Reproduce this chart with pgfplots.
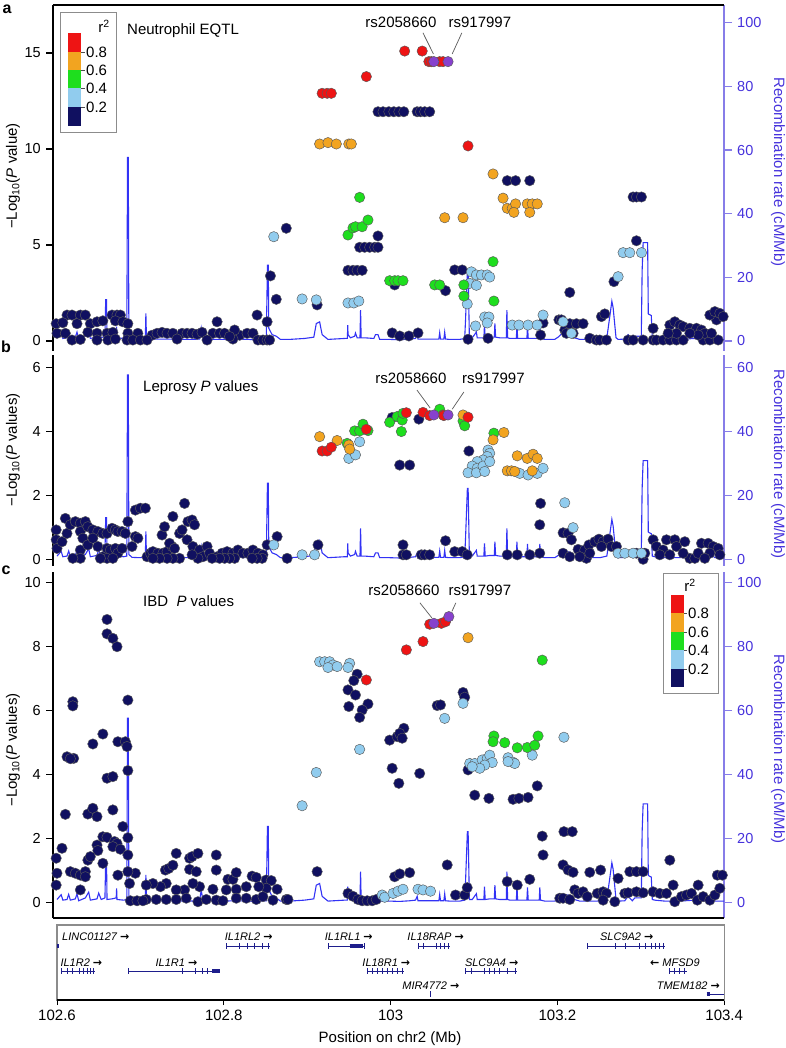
\documentclass[border=0pt]{standalone}
\usepackage{pgfplots}
\usepackage{pgfplotstable}
\pgfplotsset{compat=1.18}
\usepackage{fontspec}
\setmainfont{Liberation Sans}
\newfontfamily\djv{DejaVu Sans}
\definecolor{navyc}{RGB}{16,16,96}
\definecolor{lbc}{RGB}{145,204,238}
\definecolor{grc}{RGB}{30,222,30}
\definecolor{orc}{RGB}{242,164,32}
\definecolor{redc}{RGB}{238,20,20}
\definecolor{purc}{RGB}{135,65,205}
\definecolor{recc}{RGB}{50,50,245}
\definecolor{raxc}{RGB}{70,50,220}
\definecolor{raxl}{RGB}{135,125,232}
\definecolor{genec}{RGB}{30,30,140}

\pgfplotstableread{
x r
102.600 1.0
102.605 2.5
102.607 0.8
102.612 1.0
102.614 2.6
102.616 0.8
102.622 1.2
102.624 2.8
102.626 0.6
102.634 1.5
102.638 3.3
102.640 0.8
102.648 1.2
102.650 3.0
102.653 1.0
102.6575 1.5
102.6584 13.0
102.6594 13.0
102.6600 1.0
102.666 1.2
102.671 1.5
102.6715 4.5
102.672 1.0
102.680 0.8
102.6837 1.0
102.6846 57.7
102.6855 57.7
102.6862 1.5
102.690 0.6
102.700 0.5
102.7059 0.5
102.7066 8.7
102.7073 0.8
102.712 0.6
102.735 0.6
102.759 0.5
102.771 0.6
102.773 4.0
102.775 0.6
102.795 0.5
102.819 0.6
102.840 0.4
102.851 0.6
102.8524 23.8
102.8534 23.8
102.854 4.0
102.858 2.0
102.863 1.5
102.868 0.5
102.879 0.5
102.897 0.8
102.908 1.2
102.911 5.5
102.915 6.0
102.918 2.0
102.925 0.5
102.945 0.8
102.9483 0.8
102.9487 5.0
102.9491 2.0
102.952 1.0
102.957 1.5
102.958 2.5
102.960 1.0
102.9634 1.0
102.9641 9.7
102.9648 1.0
102.969 1.0
102.980 0.8
102.982 2.0
102.985 2.0
102.987 0.5
102.999 0.5
103.011 0.4
103.023 0.6
103.030 0.8
103.032 2.0
103.033 0.6
103.047 0.6
103.058 0.6
103.059 2.6
103.060 0.6
103.064 0.6
103.065 2.8
103.066 0.6
103.071 0.5
103.083 0.5
103.089 0.8
103.090 6.6
103.0922 22.2
103.0931 22.2
103.0946 1.0
103.098 1.0
103.103 2.8
103.104 1.0
103.112 1.0
103.1127 5.0
103.1136 1.0
103.119 1.2
103.1245 1.2
103.1252 5.5
103.1261 1.2
103.131 1.0
103.1389 1.0
103.1396 9.7
103.1405 1.0
103.143 0.8
103.151 0.8
103.1516 5.5
103.1525 0.8
103.1636 0.8
103.1643 4.8
103.1652 0.8
103.1784 0.8
103.1791 4.8
103.1799 0.8
103.185 0.5
103.197 0.5
103.201 1.2
103.206 2.4
103.213 2.4
103.218 1.2
103.227 0.5
103.251 0.5
103.2595 1.0
103.2655 12.5
103.2670 10.5
103.2705 1.0
103.273 0.5
103.281 0.6
103.285 2.0
103.290 0.6
103.293 1.5
103.3008 1.5
103.3018 22.0
103.303 30.9
103.3084 30.9
103.3092 8.5
103.3128 8.0
103.314 1.0
103.317 0.8
103.329 0.5
103.347 0.5
103.365 0.8
103.377 0.5
103.383 2.0
103.389 0.5
103.400 0.5
}\recomb

\pgfplotsset{
  pt/.style={only marks, mark=*, mark size=5.2bp, mark options={fill=#1, draw=black!65, line width=0.45bp}},
  every tick label/.append style={font=\fontsize{14.5bp}{17bp}\selectfont},
  /pgf/number format/assume math mode=true,
  panel/.style={scale only axis, width=671bp, xmin=102.5952, xmax=103.4, anchor=south west,
    axis line style={-, black, line width=1.1bp}, tick style={black, line width=1.1bp},
    tick align=outside, major tick length=7bp, xtick=\empty},
  rpanel/.style={scale only axis, width=671bp, xmin=102.5952, xmax=103.4, anchor=south west,
    axis x line=none, axis y line*=right, xtick=\empty,
    y axis line style={-, raxl, line width=1.1bp}, tick style={raxl, line width=1.1bp},
    tick align=outside, major tick length=8bp,
    yticklabel style={text=raxc}},
  recline/.style={recc, line width=1.1bp},
}

\begin{document}
\fontsize{15bp}{18bp}\selectfont
\begin{tikzpicture}
\path[use as bounding box] (0,0) rectangle (786bp,1048bp);

%================ PANEL A =================
\begin{axis}[rpanel, at={(53bp,697bp)}, height=346bp, ymin=-3.14, ymax=105.56, ytick={0,20,40,60,80,100}]
\addplot[recline] table[x=x,y=r] {\recomb};
\end{axis}
\begin{axis}[panel, at={(53bp,697bp)}, height=346bp, ymin=-0.521, ymax=17.5, ytick={0,5,10,15},
  axis x line*=top, axis y line*=left, clip=false]
\addplot[pt=navyc] coordinates {
(102.612,1.35)(102.618,1.35)(102.628,1.35)(102.634,1.35)(102.666,1.35)(102.672,1.35)(102.676,1.35)(102.840,1.35)
(102.599,0.90)(102.607,0.95)(102.624,0.90)(102.640,0.90)(102.648,1.0)(102.655,1.05)(102.670,1.05)(102.679,1.0)(102.685,0.9)
(102.600,0.40)(102.610,0.40)(102.637,0.45)(102.648,0.40)(102.660,0.40)(102.667,0.45)(102.685,0.40)(102.697,0.40)(102.714,0.30)(102.720,0.40)(102.726,0.45)(102.732,0.40)(102.739,0.40)(102.750,0.40)(102.756,0.40)(102.762,0.40)(102.768,0.35)(102.774,0.45)(102.787,0.40)(102.795,0.40)(102.801,0.40)(102.819,0.30)(102.828,0.40)(102.835,0.40)
(102.618,0.05)(102.628,0.08)(102.648,0.05)(102.661,0.05)(102.670,0.10)(102.684,0.05)(102.691,0.05)(102.700,0.05)(102.708,0.05)(102.744,0.10)(102.780,0.05)(102.811,0.10)(102.841,0.05)(102.847,0.05)(102.852,0.05)(102.855,0.05)
(102.792,1.0)(102.813,0.57)(102.852,1.0)(102.807,0.23)
(102.856,3.39)(102.863,2.17)(102.875,5.87)(102.912,1.88)
(102.985,11.94)(102.991,11.94)(102.998,11.94)(103.004,11.94)(103.010,11.94)(103.016,11.94)(103.032,11.94)(103.036,11.94)(103.041,11.94)(103.047,11.94)
(102.985,5.47)(102.963,4.88)(102.969,4.88)(102.975,4.88)(102.981,4.88)(102.985,4.88)
(102.949,3.68)(102.955,3.68)(102.960,3.68)(102.966,3.68)
(103.005,2.92)(103.066,2.62)(103.077,3.70)(103.086,3.70)
(103.140,8.35)(103.150,8.35)(103.167,8.35)
(103.291,7.5)(103.295,7.5)(103.301,7.5)(103.295,5.22)(103.268,3.09)(103.215,2.53)
(103.002,0.42)(103.011,0.26)(103.022,0.26)(103.033,0.42)(103.093,0.09)(103.117,0.14)(103.180,0.31)(103.183,0.94)(103.202,1.1)
(103.205,1.1)(103.209,0.57)(103.215,0.9)(103.223,0.9)(103.231,0.9)(103.219,0.4)(103.211,0.4)(103.239,0.14)(103.247,0.05)(103.251,0.05)(103.259,0.05)(103.253,1.27)(103.257,1.41)
(103.285,0.05)(103.291,0.05)(103.303,0.05)(103.315,0.05)(103.319,0.05)(103.327,0.05)(103.335,0.05)(103.343,0.05)(103.351,0.05)(103.375,0.05)(103.383,0.05)(103.393,0.05)
(103.315,0.66)(103.335,0.83)(103.341,1.0)(103.347,0.83)(103.351,0.75)(103.359,0.66)(103.367,0.66)(103.373,0.57)(103.377,0.4)(103.343,0.4)(103.333,0.4)(103.391,1.1)(103.383,1.35)(103.389,1.53)(103.395,1.44)(103.399,1.27)(103.385,0.4)(103.369,0.31)(103.359,0.4)
};
\addplot[pt=lbc] coordinates {
(102.860,5.43)(102.894,2.19)(102.911,2.14)(102.949,1.98)(102.956,1.98)(102.962,2.08)
(103.097,3.6)(103.103,3.44)(103.109,3.44)(103.116,3.44)(103.119,3.33)(103.095,3.0)(103.103,2.9)(103.092,1.93)
(103.113,1.25)(103.118,1.25)(103.116,0.94)(103.102,0.78)
(103.146,0.83)(103.154,0.83)(103.165,0.83)(103.176,0.83)(103.183,1.35)
(103.207,1.0)(103.217,0.4)
(103.279,4.60)(103.287,4.60)(103.301,4.60)(103.273,3.35)
};
\addplot[pt=grc] coordinates {
(102.963,7.48)(102.949,5.52)(102.955,5.89)(102.958,5.95)(102.966,5.95)(102.973,6.30)
(102.999,3.14)(103.005,3.14)(103.009,3.14)(103.015,3.14)
(103.053,2.92)(103.059,2.92)(103.088,2.92)(103.088,2.34)(103.123,4.13)(103.124,2.08)
};
\addplot[pt=orc] coordinates {
(102.915,10.26)(102.925,10.33)(102.935,10.26)(102.950,10.26)(102.953,10.26)
(103.065,6.42)(103.087,6.42)
(103.123,8.70)(103.135,7.44)(103.140,6.91)(103.146,6.91)(103.150,7.14)(103.148,6.70)(103.164,7.14)(103.170,7.14)(103.176,7.14)(103.167,6.70)
};
\addplot[pt=redc] coordinates {
(102.918,12.9)(102.924,12.9)(102.929,12.9)(102.971,13.77)(103.017,15.1)(103.038,15.1)(103.046,14.55)(103.049,14.55)(103.059,14.55)(103.063,14.55)(103.093,10.16)
};
\addplot[pt=purc] coordinates {(103.052,14.55)(103.069,14.55)};
\draw[black!65, line width=0.7bp] (axis cs:103.0389,16.05) -- (axis cs:103.0515,14.95);
\draw[black!65, line width=0.7bp] (axis cs:103.0856,16.05) -- (axis cs:103.0740,14.95);
\node[anchor=base] at (axis cs:103.0125,16.35) {rs2058660};
\node[anchor=base] at (axis cs:103.1072,16.35) {rs917997};
\end{axis}

%================ PANEL B =================
\begin{axis}[rpanel, at={(53bp,482bp)}, height=211bp, ymin=-2.1, ymax=63.98, ytick={0,20,40,60}]
\addplot[recline] table[x=x,y=r] {\recomb};
\end{axis}
\begin{axis}[panel, at={(53bp,482bp)}, height=211bp, ymin=-0.21, ymax=6.398, ytick={0,2,4,6},
  axis x line=none, axis y line*=left, clip=false]
\addplot[pt=navyc] coordinates {
(102.599,0.92)(102.599,0.61)(102.600,0.34)(102.610,1.28)(102.606,0.55)(102.612,0.81)(102.616,1.08)(102.622,1.18)(102.628,1.13)(102.628,0.87)(102.634,1.18)(102.637,1.02)(102.631,0.66)(102.628,0.29)(102.637,0.45)(102.643,0.92)(102.649,0.87)(102.655,0.81)(102.660,0.81)(102.643,0.66)(102.649,0.40)(102.655,0.08)(102.660,0.34)(102.666,0.97)(102.670,0.92)(102.673,0.87)(102.678,0.87)(102.682,0.81)(102.664,0.29)(102.670,0.34)(102.673,0.19)(102.678,0.34)(102.685,1.18)(102.690,0.40)(102.694,1.54)(102.700,1.60)(102.706,1.60)(102.694,0.71)(102.697,0.66)(102.708,0.08)(102.712,0.19)(102.715,0.24)(102.721,0.19)(102.727,0.19)(102.732,0.24)(102.738,0.40)(102.739,1.34)(102.726,0.76)(102.729,1.02)(102.735,0.50)(102.741,0.34)(102.747,0.81)(102.750,0.92)(102.753,1.75)(102.756,0.61)(102.757,1.18)(102.762,1.23)(102.765,1.08)(102.763,0.40)(102.771,0.29)(102.775,0.08)(102.780,0.40)(102.783,0.19)(102.792,0.08)(102.798,0.19)(102.804,0.24)(102.811,0.19)(102.817,0.29)(102.823,0.19)(102.829,0.19)(102.835,0.29)(102.841,0.19)(102.847,0.14)(102.852,0.45)(102.846,0.03)(102.840,0.03)(102.834,0.03)(102.813,0.03)(102.807,0.03)(102.801,0.03)(102.795,0.03)(102.786,0.03)(102.769,0.03)(102.762,0.14)(102.747,0.03)(102.739,0.03)(102.732,0.03)(102.723,0.03)(102.715,0.03)(102.660,0.03)(102.652,0.03)(102.667,0.03)(102.628,0.03)(102.619,0.03)
(102.864,0.71)(102.876,0.03)(102.913,0.45)
(103.002,4.44)(103.034,4.39)(103.011,2.95)(103.023,2.95)(103.094,3.39)
(103.015,0.45)(103.015,0.14)(103.019,0.14)(103.037,0.14)(103.041,0.14)(103.047,0.14)(103.066,0.58)(103.077,0.24)(103.086,0.24)(103.092,0.14)(103.140,0.14)(103.152,0.14)(103.167,0.14)(103.179,0.19)
(103.180,1.75)(103.179,1.08)
(103.207,0.83)(103.213,0.81)(103.217,0.61)(103.207,0.19)(103.215,0.08)(103.225,0.31)(103.233,0.29)(103.238,0.45)(103.245,0.55)(103.250,0.63)(103.255,0.55)(103.261,0.63)(103.253,0.40)(103.265,0.40)(103.235,0.03)(103.239,0.19)(103.227,0.08)
(103.271,0.40)(103.295,0.19)(103.303,0.0)(103.315,0.61)(103.319,0.40)(103.331,0.61)(103.341,0.61)(103.343,0.40)(103.353,0.55)(103.359,0.03)(103.365,0.03)(103.369,0.19)(103.373,0.50)(103.381,0.50)(103.387,0.40)(103.393,0.34)(103.395,0.14)(103.383,0.19)(103.377,0.03)(103.327,0.29)(103.323,0.14)(103.335,0.14)(103.351,0.19)(103.305,0.19)
};
\addplot[pt=lbc] coordinates {
(102.860,0.45)(102.894,0.14)(102.909,0.14)
(102.963,3.68)(102.950,3.16)(102.958,3.27)
(103.117,3.42)(103.119,3.32)(103.116,3.22)(103.111,3.11)(103.104,3.06)(103.098,2.92)(103.104,2.85)(103.093,2.71)(103.103,2.71)(103.111,2.92)(103.119,3.06)(103.113,2.75)
(103.155,2.69)(103.165,2.64)(103.176,2.69)(103.183,2.85)
(103.209,1.77)(103.219,0.99)
(103.273,0.19)(103.281,0.19)(103.291,0.19)(103.301,0.19)
};
\addplot[pt=grc] coordinates {
(102.948,3.63)(102.957,4.02)(102.963,4.02)(102.967,4.23)(102.973,4.03)(102.999,4.29)(103.008,4.47)(103.014,4.36)(103.015,4.57)(103.013,4.0)(103.059,4.70)(103.087,4.33)(103.089,4.18)(103.124,3.95)
};
\addplot[pt=orc] coordinates {
(102.915,3.84)(102.936,3.72)(102.950,3.58)(102.951,3.45)(103.087,4.52)(103.123,3.74)(103.136,3.97)(103.152,3.24)(103.164,3.16)(103.171,3.29)(103.176,3.16)(103.140,2.77)(103.145,2.77)(103.149,2.75)(103.170,2.77)
};
\addplot[pt=redc] coordinates {
(102.918,3.39)(102.924,3.39)(102.929,3.51)(102.971,4.07)(103.019,4.59)(103.039,4.60)(103.047,4.50)(103.063,4.52)(103.064,4.50)(103.093,4.45)
};
\addplot[pt=purc] coordinates {(103.052,4.52)(103.069,4.52)};
\draw[black!65, line width=0.7bp] (axis cs:103.0317,5.30) -- (axis cs:103.0475,4.74);
\draw[black!65, line width=0.7bp] (axis cs:103.0880,5.24) -- (axis cs:103.0740,4.70);
\node[anchor=base] at (axis cs:103.0245,5.5) {rs2058660};
\node[anchor=base] at (axis cs:103.1234,5.5) {rs917997};
\end{axis}

%================ PANEL C =================
\begin{axis}[rpanel, at={(53bp,130bp)}, height=346bp, ymin=-4.78, ymax=103.34, ytick={0,20,40,60,80,100}]
\addplot[recline] table[x=x,y=r] {\recomb};
\end{axis}
\begin{axis}[panel, at={(53bp,130bp)}, height=346bp, ymin=-0.478, ymax=10.334, ytick={0,2,4,6,8,10},
  axis x line*=bottom, axis y line*=left, clip=false]
\addplot[pt=navyc] coordinates {
(102.660,8.85)(102.660,8.40)(102.667,8.26)(102.672,8.0)
(102.619,6.28)(102.619,6.15)(102.685,6.33)
(102.612,4.56)(102.620,4.51)(102.616,4.50)(102.655,5.27)(102.643,4.96)(102.673,5.03)(102.682,5.03)(102.684,4.88)
(102.660,3.89)(102.667,3.94)(102.685,4.13)
(102.610,2.76)(102.637,2.77)(102.643,2.95)(102.648,2.69)(102.667,2.90)(102.679,2.38)
(102.599,1.39)(102.606,1.70)(102.655,2.06)(102.660,2.04)(102.648,1.80)(102.649,1.63)(102.669,1.91)(102.672,1.85)(102.667,1.75)(102.676,1.67)(102.685,2.03)(102.685,1.49)(102.655,1.23)(102.637,1.33)(102.640,1.44)
(102.600,0.92)(102.599,0.55)(102.616,0.97)(102.622,0.92)(102.628,0.86)(102.634,0.97)(102.634,0.81)(102.628,0.40)(102.673,0.86)(102.687,0.60)(102.694,0.92)(102.685,0.97)
(102.743,1.54)(102.730,1.02)(102.734,1.07)(102.739,1.17)(102.759,1.39)(102.762,1.44)(102.769,1.54)(102.759,1.04)(102.767,0.97)(102.791,1.49)(102.791,1.02)(102.805,0.73)(102.811,0.73)(102.815,0.94)(102.834,0.83)(102.839,0.79)(102.851,0.71)(102.857,0.69)(102.864,0.42)(102.851,0.45)(102.842,0.50)(102.827,0.50)(102.815,0.42)(102.803,0.40)(102.787,0.42)(102.771,0.50)(102.763,0.60)(102.753,0.40)(102.743,0.40)(102.731,0.60)(102.724,0.50)(102.715,0.60)(102.707,0.55)(102.707,0.10)(102.719,0.10)(102.731,0.10)(102.743,0.10)(102.755,0.14)(102.769,0.03)(102.779,0.10)(102.791,0.08)(102.799,0.06)(102.815,0.14)(102.827,0.14)(102.839,0.10)(102.847,0.19)(102.859,0.08)(102.875,0.10)(102.912,0.97)(102.877,0.10)
(102.688,0.06)(102.696,0.06)(102.703,0.06)
(102.949,0.29)(102.955,0.20)(102.961,0.10)(102.966,0.06)(102.972,0.06)(102.978,0.06)(102.983,0.10)
(102.960,7.14)(102.956,6.94)(102.949,6.65)(102.958,6.49)(102.950,6.13)(102.973,6.21)(102.966,6.02)(102.963,5.79)
(102.999,5.08)(103.008,5.19)(103.016,5.45)(103.011,5.29)(103.014,5.14)(103.002,4.20)(103.035,4.04)(103.010,3.73)
(103.056,6.16)(103.060,6.18)(103.087,6.57)(103.089,6.42)(103.093,4.15)
(103.101,3.36)(103.118,3.26)(103.147,3.23)(103.154,3.26)(103.165,3.29)(103.176,3.65)
(103.182,2.08)(103.183,1.49)(103.208,2.22)(103.218,2.22)(103.068,1.18)
(103.005,0.81)(103.011,0.90)(103.023,0.94)(103.078,0.24)(103.089,0.24)(103.092,0.47)(103.140,0.66)(103.152,0.55)(103.167,0.73)
(103.207,1.18)(103.213,1.02)(103.219,0.95)(103.239,0.95)(103.252,1.02)
(103.203,0.14)(103.207,0.14)(103.215,0.10)(103.221,0.40)(103.225,0.29)(103.231,0.34)(103.236,0.19)(103.248,0.29)(103.255,0.34)(103.259,0.29)(103.255,0.08)(103.269,0.03)(103.273,0.76)(103.281,0.29)(103.285,0.31)(103.287,0.97)(103.295,0.97)(103.295,0.34)(103.303,0.97)(103.303,0.31)(103.315,0.34)(103.323,0.29)(103.331,0.29)(103.335,1.33)(103.339,0.55)(103.341,0.03)(103.349,0.19)(103.355,0.24)(103.361,0.29)(103.369,0.55)(103.368,0.08)(103.375,0.19)(103.383,0.08)(103.389,0.24)(103.395,0.45)(103.392,0.86)(103.398,0.86)
};
\addplot[pt=lbc] coordinates {
(102.894,3.03)(102.911,4.07)(102.963,4.79)
(102.915,7.53)(102.921,7.53)(102.927,7.53)(102.931,7.43)(102.925,7.35)(102.936,7.38)(102.951,7.48)(102.949,7.35)
(102.990,0.24)(102.993,0.17)(103.003,0.29)(103.009,0.36)(103.015,0.42)(103.033,0.42)(103.039,0.40)(103.048,0.36)
(103.087,6.23)(103.065,5.76)
(103.095,4.35)(103.101,4.35)(103.110,4.46)(103.116,4.51)(103.119,4.61)(103.122,4.38)(103.113,4.30)(103.107,4.20)(103.098,4.25)
(103.141,4.53)(103.147,4.39)(103.149,4.35)(103.141,4.41)(103.170,4.61)(103.208,5.17)
};
\addplot[pt=grc] coordinates {
(103.124,5.21)(103.123,5.03)(103.137,5.0)(103.152,4.84)(103.164,4.85)(103.173,4.92)(103.177,5.21)(103.182,7.58)
};
\addplot[pt=orc] coordinates {(103.093,8.28)};
\addplot[pt=redc] coordinates {
(102.971,6.96)(103.019,7.90)(103.039,8.16)(103.047,8.70)(103.061,8.73)(103.066,8.78)
};
\addplot[pt=purc] coordinates {(103.052,8.73)(103.070,8.94)};
\draw[black!65, line width=0.7bp] (axis cs:103.0353,9.37) -- (axis cs:103.0496,8.90);
\draw[black!65, line width=0.7bp] (axis cs:103.0784,9.37) -- (axis cs:103.0736,9.10);
\node[anchor=base] at (axis cs:103.0161,9.60) {rs2058660};
\node[anchor=base] at (axis cs:103.1072,9.60) {rs917997};
\end{axis}

%================ GENE TRACK =================
\begin{axis}[scale only axis, width=667.2bp, height=75bp, at={(57bp,48bp)}, anchor=south west,
  xmin=102.6, xmax=103.4, ymin=0, ymax=75, clip=false,
  axis line style={black!45, line width=1.2bp}, ytick=\empty,
  xtick={102.6,102.8,103,103.2,103.4}, xticklabels={102.6,102.8,103,103.2,103.4},
  xtick pos=bottom, tick align=outside, major tick length=5bp, tick style={black, line width=1bp},
  xticklabel style={font=\fontsize{15bp}{18bp}\selectfont}]
\draw[black, line width=1.2bp] (rel axis cs:0,0) -- (rel axis cs:1,0);
\addplot[genec, line width=0.8bp, unbounded coords=jump] coordinates {
(102.803,54)(102.855,54)(nan,nan)
(102.926,54)(102.969,54)(nan,nan)
(103.034,54)(103.071,54)(nan,nan)
(103.236,54)(103.329,54)(nan,nan)
(102.605,29)(102.646,29)(nan,nan)
(102.686,29)(102.795,29)(nan,nan)
(102.972,29)(103.016,29)(nan,nan)
(103.090,29)(103.151,29)(nan,nan)
(103.335,29)(103.355,29)(nan,nan)
(103.379,6)(103.400,6)
};
\addplot[genec, line width=4bp, unbounded coords=jump] coordinates {
(102.600,54)(102.6025,54)(nan,nan)
(102.951,54)(102.967,54)(nan,nan)
(102.786,29)(102.795,29)(nan,nan)
(103.379,6)(103.383,6)
};
\addplot[genec, only marks, mark=|, mark size=3bp, mark options={line width=1bp}] coordinates {
(102.803,54)(102.819,54)(102.828,54)(102.837,54)(102.846,54)(102.854,54)
(102.926,54)(102.969,54)
(103.034,54)(103.040,54)(103.055,54)(103.060,54)(103.065,54)(103.070,54)
(103.236,54)(103.270,54)(103.282,54)(103.298,54)(103.306,54)(103.313,54)(103.318,54)(103.322,54)(103.327,54)
(102.605,29)(102.612,29)(102.618,29)(102.627,29)(102.632,29)(102.636,29)(102.640,29)(102.644,29)
(102.686,29)(102.750,29)(102.766,29)(102.774,29)(102.780,29)
(102.972,29)(102.978,29)(102.984,29)(102.990,29)(102.996,29)(103.002,29)(103.008,29)(103.014,29)
(103.090,29)(103.097,29)(103.113,29)(103.118,29)(103.124,29)(103.130,29)(103.140,29)(103.150,29)
(103.335,29)(103.341,29)(103.347,29)(103.353,29)
(103.048,6)
};
\tikzset{gl/.style={anchor=west, inner sep=0pt, font=\itshape\fontsize{11bp}{13bp}\selectfont}}
\node[gl] at (axis cs:102.606,63) {LINC01127 {\upshape\djv\bfseries →}};
\node[gl] at (axis cs:102.801,63) {IL1RL2 {\upshape\djv\bfseries →}};
\node[gl] at (axis cs:102.921,63) {IL1RL1 {\upshape\djv\bfseries →}};
\node[gl] at (axis cs:103.020,63) {IL18RAP {\upshape\djv\bfseries →}};
\node[gl] at (axis cs:103.251,63) {SLC9A2 {\upshape\djv\bfseries →}};
\node[gl] at (axis cs:102.604,37.5) {IL1R2 {\upshape\djv\bfseries →}};
\node[gl] at (axis cs:102.718,37.5) {IL1R1 {\upshape\djv\bfseries →}};
\node[gl] at (axis cs:102.966,37.5) {IL18R1 {\upshape\djv\bfseries →}};
\node[gl] at (axis cs:103.089,37.5) {SLC9A4 {\upshape\djv\bfseries →}};
\node[gl] at (axis cs:103.311,37.5) {{\upshape\djv\bfseries ←} MFSD9};
\node[gl] at (axis cs:103.014,14.5) {MIR4772 {\upshape\djv\bfseries →}};
\node[gl] at (axis cs:103.319,14.5) {TMEM182 {\upshape\djv\bfseries →}};
\end{axis}

%================ LABELS & LEGENDS =================
\node at (390bp,9bp) {Position on chr2 (Mb)};
\node[rotate=90] at (13bp,872bp) {−Log\textsubscript{10}(\textit{P} value)};
\node[rotate=90] at (13bp,598bp) {−Log\textsubscript{10}(\textit{P} values)};
\node[rotate=90] at (13bp,298bp) {−Log\textsubscript{10}(\textit{P} values)};
\node[rotate=-90, text=raxc] at (778bp,876bp) {Recombination rate (cM/Mb)};
\node[rotate=-90, text=raxc] at (778bp,584bp) {Recombination rate (cM/Mb)};
\node[rotate=-90, text=raxc] at (778bp,299bp) {Recombination rate (cM/Mb)};
\node[font=\bfseries\fontsize{16bp}{19bp}\selectfont, anchor=north, inner sep=0pt] at (7bp,1043bp) {a};
\node[font=\bfseries\fontsize{16bp}{19bp}\selectfont] at (6bp,701bp) {b};
\node[font=\bfseries\fontsize{16bp}{19bp}\selectfont] at (6bp,478bp) {c};
\node[anchor=west] at (122bp,1017bp) {Neutrophil EQTL};
\node[anchor=west] at (138bp,660bp) {Leprosy \textit{P} values};
\node[anchor=west] at (138bp,447bp) {IBD\ \ \textit{P} values};

% legend a
\draw[black!45, line width=1bp] (60bp,1035bp) rectangle (116bp,915bp);
\fill[redc] (68bp,1015bp) rectangle (81bp,996bp);
\fill[orc] (68bp,996bp) rectangle (81bp,978bp);
\fill[grc] (68bp,978bp) rectangle (81bp,960bp);
\fill[lbc] (68bp,960bp) rectangle (81bp,941bp);
\fill[navyc] (68bp,941bp) rectangle (81bp,922bp);
\foreach \yy/\tt in {996/0.8,978/0.6,960/0.4,941/0.2}{
  \draw[black!70, line width=0.8bp] (81bp,\yy bp) -- (85bp,\yy bp);
  \node[anchor=west, inner sep=1bp] at (85bp,\yy bp) {\tt};
}
\node at (104bp,1022bp) {r\textsuperscript{2}};

% legend c
\draw[black!45, line width=1bp] (663bp,474bp) rectangle (718bp,354bp);
\fill[redc] (671bp,453bp) rectangle (684bp,435bp);
\fill[orc] (671bp,435bp) rectangle (684bp,416bp);
\fill[grc] (671bp,416bp) rectangle (684bp,398bp);
\fill[lbc] (671bp,398bp) rectangle (684bp,379bp);
\fill[navyc] (671bp,379bp) rectangle (684bp,361bp);
\foreach \yy/\tt in {435/0.8,416/0.6,398/0.4,379/0.2}{
  \draw[black!70, line width=0.8bp] (684bp,\yy bp) -- (687bp,\yy bp);
  \node[anchor=west, inner sep=1bp] at (687bp,\yy bp) {\tt};
}
\node at (690bp,463bp) {r\textsuperscript{2}};
\end{tikzpicture}
\end{document}
